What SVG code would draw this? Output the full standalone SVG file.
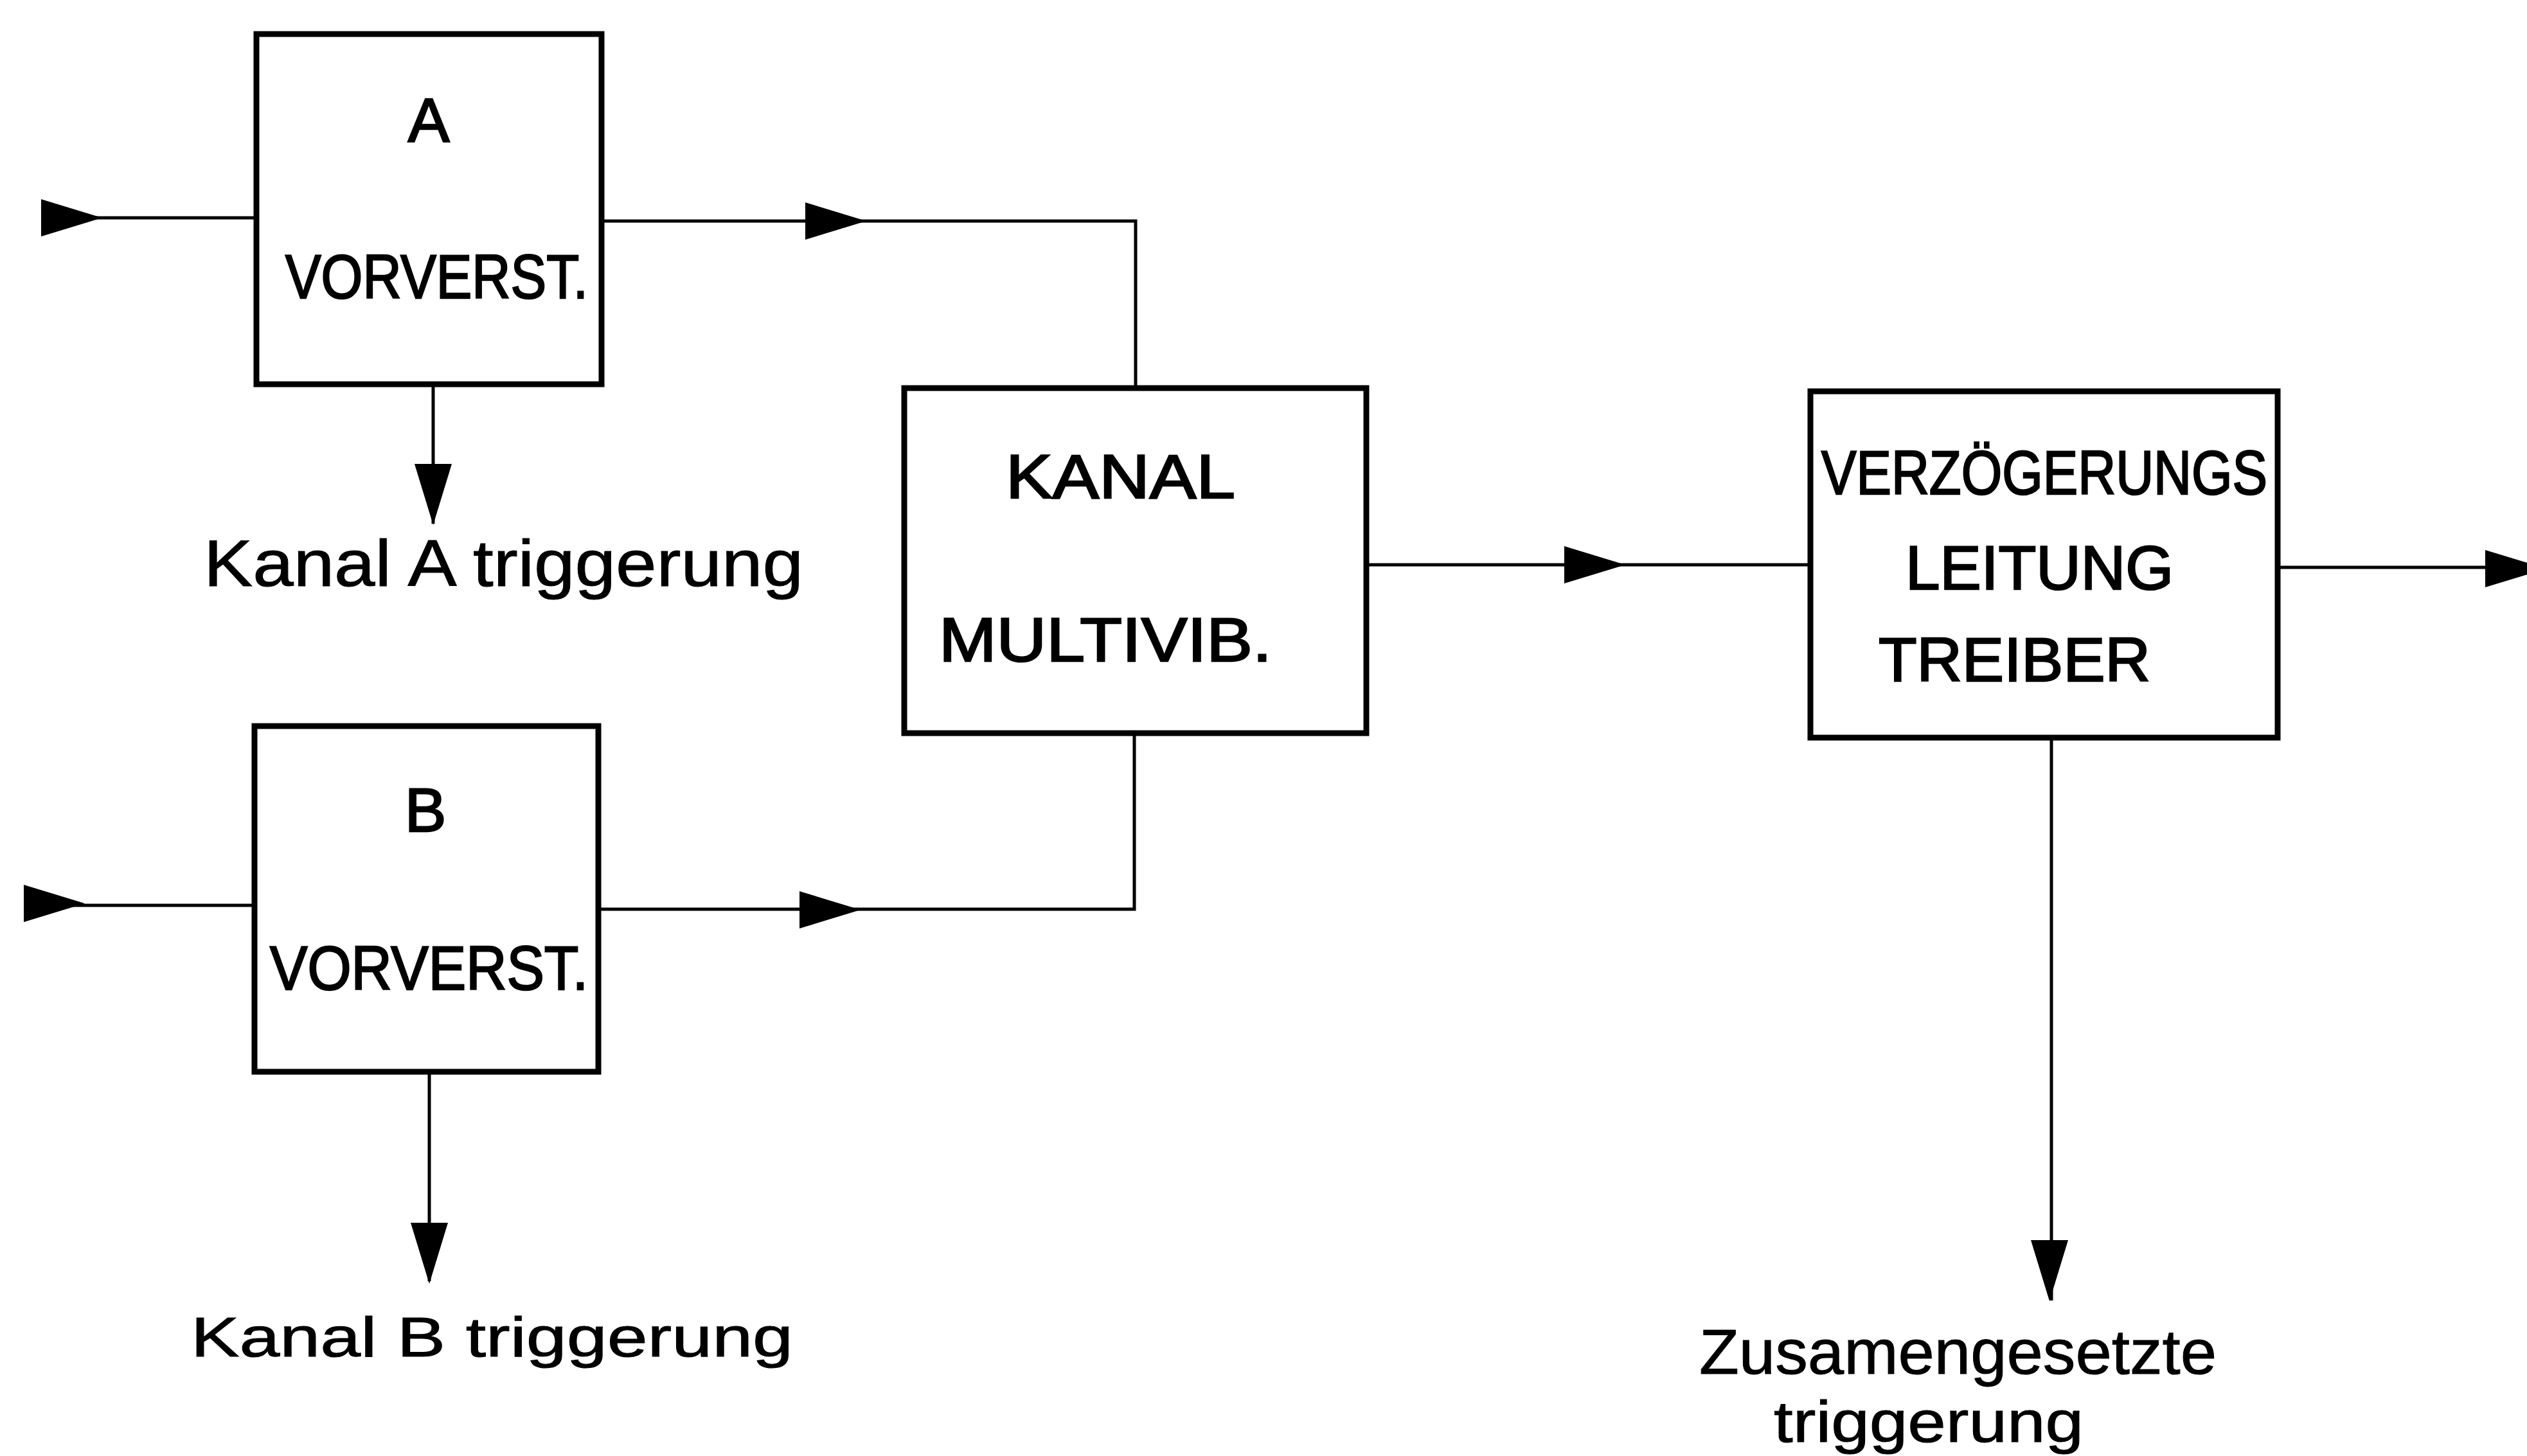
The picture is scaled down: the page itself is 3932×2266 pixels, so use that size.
<svg xmlns="http://www.w3.org/2000/svg" xmlns:xlink="http://www.w3.org/1999/xlink" width="3932" height="2266" viewBox="0 0 3932 2266">
<style>
.box{fill:#fff;stroke:#000;stroke-width:9}
.wire{fill:none;stroke:#000;stroke-width:5}
.t{font-family:"Liberation Sans","DejaVu Sans",Arial,sans-serif;fill:#000}
.bt{font-size:97px;stroke:#000;stroke-width:2.5}
.lt{stroke:#000;stroke-width:1}
</style>
<defs>
<path id="ah" d="M0,-29 L95,0 L0,29 Z" fill="#000"/>
</defs>
<rect width="3932" height="2266" fill="#fff"/>
<g id="connectors">
<path class="wire" d="M67,339 H399"/>
<use xlink:href="#ah" href="#ah" transform="translate(64,339)"/>
<path class="wire" d="M936,344 H1767 V604"/>
<use xlink:href="#ah" href="#ah" transform="translate(1253,344)"/>
<path class="wire" d="M674,598 V815"/>
<use xlink:href="#ah" href="#ah" transform="translate(674,722) rotate(90)"/>
<path class="wire" d="M40,1409 H396"/>
<use xlink:href="#ah" href="#ah" transform="translate(37,1406)"/>
<path class="wire" d="M931,1415 H1765 V1141"/>
<use xlink:href="#ah" href="#ah" transform="translate(1244,1416)"/>
<path class="wire" d="M668,1668 V1994"/>
<use xlink:href="#ah" href="#ah" transform="translate(668,1903) rotate(90)"/>
<path class="wire" d="M2126,879 H2817"/>
<use xlink:href="#ah" href="#ah" transform="translate(2434,879)"/>
<path class="wire" d="M3543,883 H3932"/>
<use xlink:href="#ah" href="#ah" transform="translate(3867,885)"/>
<path class="wire" d="M3192,1148 V2024"/>
<use xlink:href="#ah" href="#ah" transform="translate(3189,1930) rotate(90)"/>
</g>
<g id="node-a">
<rect class="box" x="399" y="53" width="537" height="545"/>
<text class="t bt" x="667" y="220" text-anchor="middle">A</text>
<text class="t bt" x="444" y="464" textLength="471" lengthAdjust="spacingAndGlyphs">VORVERST.</text>
</g>
<g id="node-b">
<rect class="box" x="396" y="1130" width="535" height="538"/>
<text class="t bt" x="662" y="1294" text-anchor="middle">B</text>
<text class="t bt" x="420" y="1540" textLength="495" lengthAdjust="spacingAndGlyphs">VORVERST.</text>
</g>
<g id="node-kanal">
<rect class="box" x="1407" y="604" width="719" height="537"/>
<text class="t bt" x="1565" y="775" textLength="357" lengthAdjust="spacingAndGlyphs">KANAL</text>
<text class="t bt" x="1461" y="1029" textLength="518" lengthAdjust="spacingAndGlyphs">MULTIVIB.</text>
</g>
<g id="node-verz">
<rect class="box" x="2817" y="609" width="727" height="539"/>
<text class="t bt" x="2834" y="769" textLength="694" lengthAdjust="spacingAndGlyphs">VERZÖGERUNGS</text>
<text class="t bt" x="2965" y="917" textLength="417" lengthAdjust="spacingAndGlyphs">LEITUNG</text>
<text class="t bt" x="2923" y="1060" textLength="423" lengthAdjust="spacingAndGlyphs">TREIBER</text>
</g>
<g id="label-a">
<text class="t lt" font-size="102" x="317" y="912" textLength="933" lengthAdjust="spacingAndGlyphs">Kanal A triggerung</text>
</g>
<g id="label-b">
<text class="t lt" font-size="88" x="297" y="2111" textLength="937" lengthAdjust="spacingAndGlyphs">Kanal B triggerung</text>
</g>
<g id="label-out">
<text class="t lt" font-size="98" x="2644" y="2138" textLength="805" lengthAdjust="spacingAndGlyphs">Zusamengesetzte</text>
<text class="t lt" font-size="90" x="2760" y="2244" textLength="482" lengthAdjust="spacingAndGlyphs">triggerung</text>
</g>
</svg>
